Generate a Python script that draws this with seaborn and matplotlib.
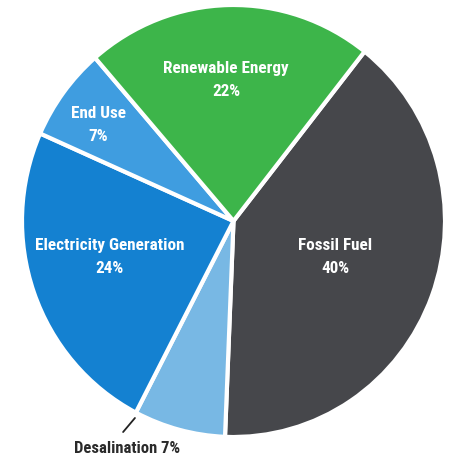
import matplotlib
matplotlib.use("Agg")
import matplotlib.pyplot as plt
import seaborn as sns

# Share of energy use by sector (percent)
sectors = ["Fossil Fuel", "Desalination", "Electricity Generation", "End Use", "Renewable Energy"]
shares = [40, 7, 24, 7, 22]
colors = ["#46474b", "#78b8e4", "#1481d1", "#3f9de0", "#3db54a"]

sns.set_theme(style="white")
plt.rcParams["font.family"] = ["Roboto Condensed", "DejaVu Sans"]
plt.rcParams["font.stretch"] = "condensed"

fig = plt.figure(figsize=(4.53, 4.59), dpi=100)
fig.patch.set_facecolor("white")
W, H = 453, 459
cx, cy, rx, ry = 233.5, 221, 211.5, 216
ax = fig.add_axes([(cx - rx) / W, (H - cy - ry) / H, 2 * rx / W, 2 * ry / H])

wedges, _ = ax.pie(
    shares,
    colors=colors,
    startangle=51.7,
    counterclock=False,
    radius=1.0,
    wedgeprops=dict(edgecolor="white", linewidth=3),
)
ax.set_xlim(-1, 1)
ax.set_ylim(-1, 1)
ax.set_aspect("auto")
ax.axis("off")

# Label anchor points inside each wedge (data coords)
label_pos = {
    "Fossil Fuel": (0.48, -0.167),
    "Electricity Generation": (-0.584, -0.167),
    "End Use": (-0.64, 0.444),
    "Renewable Energy": (-0.035, 0.653),
}
for name, val in zip(sectors, shares):
    if name in label_pos:
        x, y = label_pos[name]
        ax.text(x, y, f"{name}\n{val}%", ha="center", va="center",
                color="white", fontsize=12.3, fontweight="bold",
                fontstretch="condensed", linespacing=1.65)

# Desalination is labelled outside with a short leader line
d_val = shares[sectors.index("Desalination")]
ax.plot([-0.466, -0.522], [-0.912, -0.977], color="#222222", lw=1.3, clip_on=False)
ax.text(-0.504, -1.051, f"Desalination {d_val}%", ha="center", va="center",
        color="#2a2a2a", fontsize=12, fontweight="bold",
        fontstretch="condensed", clip_on=False)

fig.savefig("out.png", dpi=100, facecolor="white")
